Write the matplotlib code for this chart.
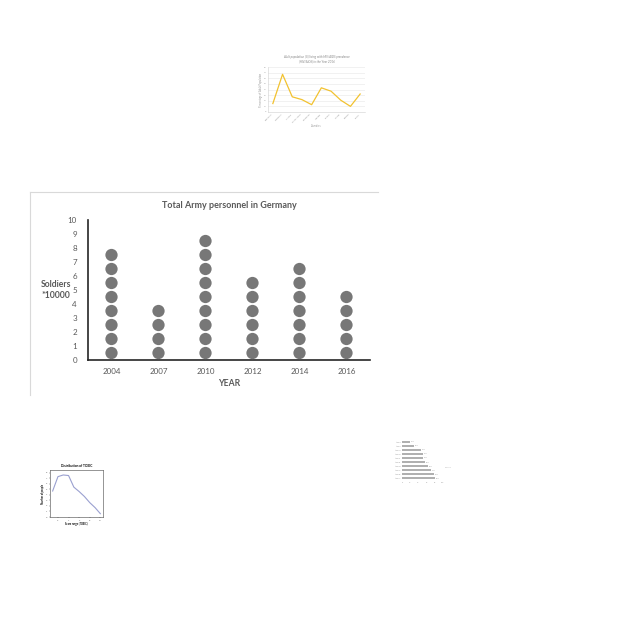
import matplotlib
matplotlib.use("Agg")
import matplotlib.pyplot as plt
from matplotlib.lines import Line2D

plt.rcParams['font.family'] = ['Lato', 'DejaVu Sans']

# ---- main chart data ----
years = ["2004", "2007", "2010", "2012", "2014", "2016"]
soldiers = [8, 4, 9, 6, 7, 5]          # in units of 10000
yticks = [0, 1, 2, 3, 4, 5, 6, 7, 8, 9, 10]

# ---- thumbnail: line chart (top) ----
thumb1_cats = ["Botswana", "Swaziland", "Lesotho", "South Africa", "Zimbabwe",
               "Namibia", "Zambia", "Malawi", "Uganda", "Kenya"]
thumb1_vals = [15, 67, 27, 22, 13, 43, 37, 21, 10, 32]
thumb1_yticks = [0, 10, 20, 30, 40, 50, 60, 70, 80]

# ---- thumbnail: line chart (bottom left) ----
thumb2_x = [1, 2, 3, 4, 5, 6, 7, 8, 9, 10]
thumb2_vals = [4.7, 7.3, 7.6, 7.5, 5.4, 4.6, 3.7, 2.6, 1.7, 0.6]

# ---- thumbnail: horizontal bars (bottom right) ----
thumb3_cats = ["Item A", "Item B", "Item C", "Item D", "Item E",
               "Item F", "Item G", "Item H", "Item I", "Item J"]
thumb3_vals = [80, 78, 71, 63, 57, 52, 51, 46, 30, 20]
thumb3_xticks = [0, 20, 40, 60, 80, 100]

TXT = "#595959"

fig = plt.figure(figsize=(6.4, 6.4), dpi=100)
W = H = 640.0

def fx(px):
    return px / W

def fy(py):
    return 1 - py / H

# chart border (top and left)
fig.add_artist(Line2D([fx(30), fx(378)], [fy(192), fy(192)], color="#d9d9d9", lw=0.8))
fig.add_artist(Line2D([fx(30), fx(30)], [fy(192), fy(395)], color="#d9d9d9", lw=0.8))

# ---- main axes ----
ax = fig.add_axes([fx(88), fy(360), fx(370) - fx(88), (360 - 220) / H])
for i, n in enumerate(soldiers):
    ys = [k + 0.5 for k in range(n)]
    ax.scatter([i] * n, ys, s=78, color="#777777", edgecolors="none", zorder=3)
ax.set_xlim(-0.5, len(years) - 0.5)
ax.set_ylim(0, 10)
ax.set_xticks(range(len(years)))
ax.set_xticklabels(years)
ax.set_yticks(yticks)
ax.tick_params(length=0, labelsize=5.8, colors=TXT)
ax.tick_params(axis="y", pad=8)
ax.tick_params(axis="x", pad=6)
for s in ["top", "right"]:
    ax.spines[s].set_visible(False)
for s in ["left", "bottom"]:
    ax.spines[s].set_color("#262626")
    ax.spines[s].set_linewidth(1.2)
ax.set_title("Total Army personnel in Germany", fontsize=6.5, fontweight="bold",
             color=TXT, pad=9)
ax.set_xlabel("YEAR", fontsize=6.2, fontweight="bold", color=TXT, labelpad=3)
ax.set_ylabel("Soldiers\n*10000", fontsize=6.2, fontweight="bold", color=TXT,
              rotation=0, ha="center", va="center", linespacing=1.3)
ax.yaxis.set_label_coords(-0.115, 0.5)

# ---- thumbnail 1 ----
a1 = fig.add_axes([fx(268), fy(112), fx(365) - fx(268), (112 - 67) / H])
a1.plot(range(len(thumb1_cats)), thumb1_vals, color="#f2c230", lw=0.9)
a1.set_ylim(0, 80)
a1.set_xlim(-0.5, len(thumb1_cats) - 0.5)
a1.set_yticks(thumb1_yticks)
a1.set_xticks(range(len(thumb1_cats)))
a1.set_xticklabels(thumb1_cats, rotation=45, ha="right")
a1.tick_params(length=0, labelsize=1.6, colors="#999999", pad=1)
a1.grid(axis="y", color="#e6e6e6", lw=0.4)
a1.set_axisbelow(True)
for s in ["top", "right"]:
    a1.spines[s].set_visible(False)
for s in ["left", "bottom"]:
    a1.spines[s].set_color("#d0d0d0")
    a1.spines[s].set_linewidth(0.4)
a1.set_title("Adult population (%) living with HIV/AIDS prevalence\n(HIV/AIDS) in the Year 2016",
             fontsize=2.2, color="#888888", pad=3, style="italic")
a1.set_ylabel("Percentage of Adult Population", fontsize=1.8, color="#999999", labelpad=1)
a1.set_xlabel("Countries", fontsize=1.8, color="#999999", labelpad=1)

# ---- thumbnail 2 ----
a2 = fig.add_axes([fx(50), fy(517), fx(103) - fx(50), (517 - 470) / H])
a2.plot(thumb2_x, thumb2_vals, color="#9aa0d0", lw=0.8)
a2.set_xlim(0.5, 10.5)
a2.set_ylim(0, 8.5)
a2.tick_params(length=1, width=0.3, labelsize=1.6, colors="#555555", pad=1)
for s in a2.spines.values():
    s.set_linewidth(0.4)
    s.set_color("#444444")
a2.set_title("Distribution of TOEIC", fontsize=2.3, fontweight="bold", pad=2)
a2.set_ylabel("Number of people", fontsize=1.8, fontweight="bold", labelpad=1)
a2.set_xlabel("Score range (TOEIC)", fontsize=1.8, fontweight="bold", labelpad=1)

# ---- thumbnail 3 ----
a3 = fig.add_axes([fx(402), fy(481), fx(443) - fx(402), (481 - 439) / H])
pos = list(range(len(thumb3_cats)))
a3.barh(pos, thumb3_vals, color="#b0b0b0", height=0.5)
for p, v in zip(pos, thumb3_vals):
    a3.text(v + 2, p, f"{v}%", fontsize=1.4, va="center", color="#999999")
a3.set_yticks(pos)
a3.set_yticklabels(thumb3_cats)
a3.set_xticks(thumb3_xticks)
a3.set_xlim(0, 100)
a3.tick_params(length=0, labelsize=1.4, colors="#999999", pad=1)
for s in a3.spines.values():
    s.set_visible(False)
fig.text(fx(445), fy(467), "Series1", fontsize=1.5, color="#aaaaaa", va="center")

fig.savefig("out.png", dpi=100)
